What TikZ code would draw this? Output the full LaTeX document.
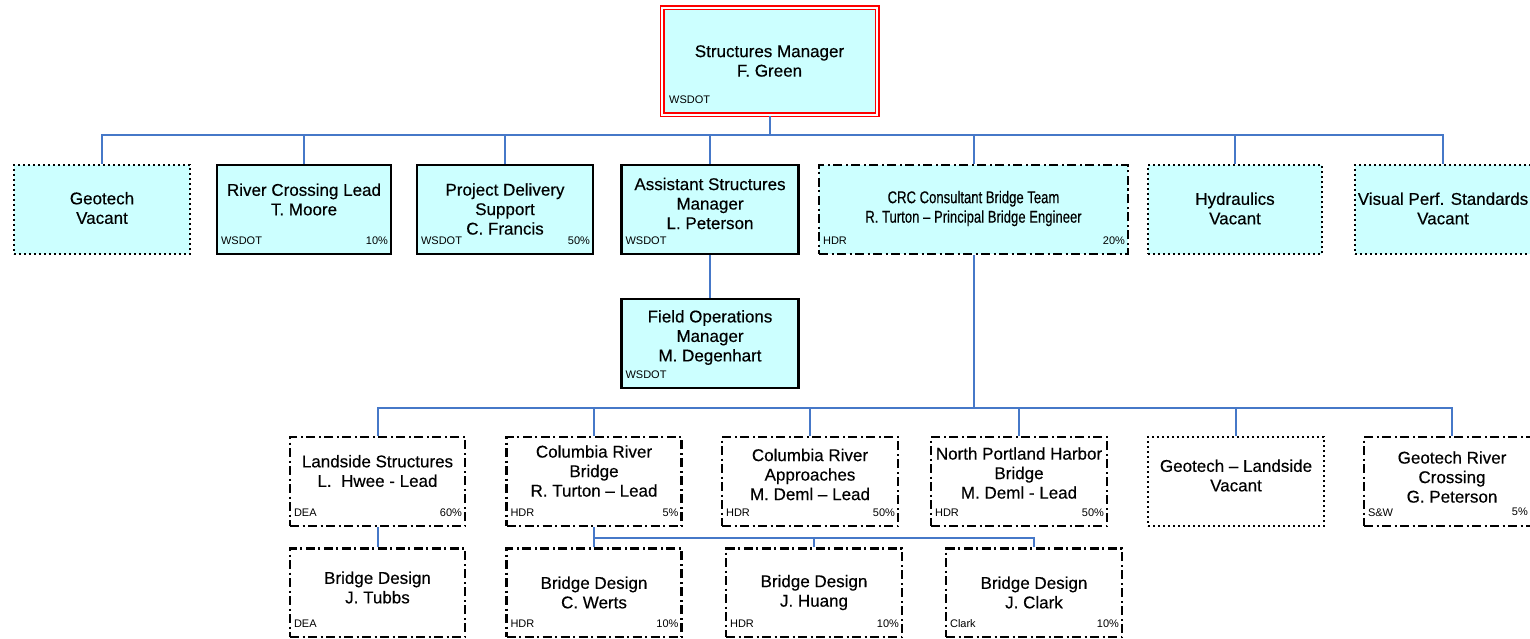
\documentclass[tikz,border=0pt]{standalone}
\usepackage{fontspec}
\setmainfont{Liberation Sans}
\newfontfamily\boxfont{Liberation Sans}[FakeBold=0.35]
\begin{document}
\begin{tikzpicture}[x=1pt,y=-1pt,
  conn/.style={draw={rgb,255:red,70;green,120;blue,200},line width=2pt},
  cyanfill/.style={fill={rgb,255:red,204;green,255;blue,255}},
  solidbox/.style={draw=black,line width=2.3pt,cyanfill},
  dotbox/.style={draw=black,line width=2pt,dash pattern=on 2pt off 3pt},
  dashdotbox/.style={draw=black,line width=2.3pt,dash pattern=on 9pt off 3.5pt on 2pt off 3.5pt},
  maintext/.style={font=\boxfont\fontsize{17}{19.5}\selectfont,align=center,inner sep=0pt},
  tag/.style={font=\fontsize{11}{12}\selectfont,inner sep=0pt}]

\useasboundingbox (0,0) rectangle (1530,639);
\clip (0,0) rectangle (1530,639);

% box: [text options] name, cx, cy, width, height, style, text y, text
\newcommand\orgbox[8][]{%
  \node[#6,minimum width=#4pt,minimum height=#5pt,inner sep=0pt] (#2) at (#3) {};
  \node[maintext,#1] (#2-t) at (#7) {#8};}
\newcommand\lefttag[2]{\node[tag,anchor=base west] (#1-l) at ([shift={(5pt,10.5pt)}]#1.south west) {#2};}
\newcommand\righttag[2]{\node[tag,anchor=base east] (#1-r) at ([shift={(-4pt,10.5pt)}]#1.south east) {#2};}

% top manager
\node[draw=red,line width=1.8pt,double=white,double distance=1.4pt,cyanfill,
      minimum width=215pt,minimum height=107pt,inner sep=0pt] (top) at (769.5,61.5) {};
\node[maintext] (top-t) at (769.5,61) {Structures Manager\\F. Green};
\node[tag,anchor=base west] (top-l) at (669,104) {WSDOT};

% first level
\orgbox{geo}{102,209.5}{176}{89}{dotbox,cyanfill}{102,208}{Geotech\\Vacant}
\orgbox{river}{304,209.5}{174}{89}{solidbox}{304,199.5}{River Crossing Lead\\T. Moore}
\lefttag{river}{WSDOT}\righttag{river}{10\%}
\orgbox{pds}{505,209.5}{176}{89}{solidbox}{505,209}{Project Delivery\\Support\\C. Francis}
\lefttag{pds}{WSDOT}\righttag{pds}{50\%}
\orgbox{asst}{710,209.5}{177}{89}{solidbox}{710,203.5}{Assistant Structures\\Manager\\L. Peterson}
\lefttag{asst}{WSDOT}
\orgbox[xscale=0.77,transform shape]{crc}{973.5,209.5}{309}{89}{dashdotbox,cyanfill}{973.5,208.5}{CRC Consultant Bridge Team\\R. Turton – Principal Bridge Engineer}
\lefttag{crc}{HDR}\righttag{crc}{20\%}
\orgbox{hyd}{1235,209.5}{174}{89}{dotbox,cyanfill}{1235,208.5}{Hydraulics\\Vacant}
\orgbox{vis}{1443,209.5}{176}{89}{dotbox,cyanfill}{1443,208.5}{Visual Perf. Standards\\Vacant}

% field operations
\orgbox{field}{710,343.5}{177}{89}{solidbox}{710,337.5}{Field Operations\\Manager\\M. Degenhart}
\lefttag{field}{WSDOT}

% consultant teams
\orgbox{land}{377.5,481.5}{175}{89}{dashdotbox}{377.5,471}{Landside Structures\\L.\ \ Hwee - Lead}
\lefttag{land}{DEA}\righttag{land}{60\%}
\orgbox{crb}{594,481.5}{175}{89}{dashdotbox}{594,471}{Columbia River\\Bridge\\R. Turton – Lead}
\lefttag{crb}{HDR}\righttag{crb}{5\%}
\orgbox{cra}{810,481.5}{176}{89}{dashdotbox}{810,474.5}{Columbia River\\Approaches\\M. Deml – Lead}
\lefttag{cra}{HDR}\righttag{cra}{50\%}
\orgbox{nph}{1019,481.5}{176}{89}{dashdotbox}{1019,473}{North Portland Harbor\\Bridge\\M. Deml - Lead}
\lefttag{nph}{HDR}\righttag{nph}{50\%}
\orgbox{gland}{1236,481.5}{176}{89}{dotbox}{1236,475.5}{Geotech – Landside\\Vacant}
\orgbox{griver}{1452,481.5}{176}{89}{dashdotbox}{1452,477}{Geotech River\\Crossing\\G. Peterson}
\lefttag{griver}{S\&W}
\node[tag,anchor=base east] (griver-r) at (1528,515.5) {5\%};

% bridge design
\orgbox{tubbs}{377.5,592.75}{175}{88.5}{dashdotbox}{377.5,587.5}{Bridge Design\\J. Tubbs}
\lefttag{tubbs}{DEA}
\orgbox{werts}{594,592.75}{175}{88.5}{dashdotbox}{594,592.5}{Bridge Design\\C. Werts}
\lefttag{werts}{HDR}\righttag{werts}{10\%}
\orgbox{huang}{814,592.75}{176}{88.5}{dashdotbox}{814,592.5}{Bridge Design\\J. Huang}
\lefttag{huang}{HDR}\righttag{huang}{10\%}
\orgbox{clark}{1034,592.75}{176}{88.5}{dashdotbox}{1034,592.5}{Bridge Design\\J. Clark}
\lefttag{clark}{Clark}\righttag{clark}{10\%}

% connectors
\coordinate (bus1) at (769.5,135);
\coordinate (bus2) at (973.5,408);
\coordinate (bus3) at (594,538);
\draw[conn] (top.south) -- (bus1);
\foreach \n in {geo,river,pds,asst,crc,hyd,vis} \draw[conn] (\n.north) |- (bus1);
\draw[conn] (asst.south) -- (field.north);
\draw[conn] (crc.south) -- (bus2);
\foreach \n in {land,crb,cra,nph,gland,griver} \draw[conn] (\n.north) |- (bus2);
\draw[conn] (land.south) -- (tubbs.north);
\draw[conn] (crb.south) -- (bus3);
\foreach \n in {werts,huang,clark} \draw[conn] (\n.north) |- (bus3);
\end{tikzpicture}
\end{document}
